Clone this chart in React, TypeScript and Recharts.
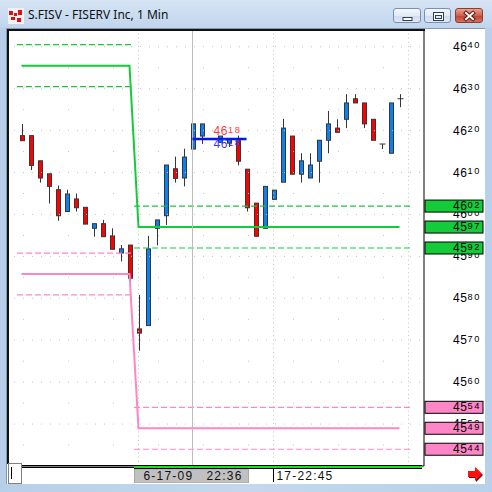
import { Bar, ComposedChart, Line, ReferenceLine, XAxis, YAxis } from "recharts";

const FONT = "'Liberation Sans', Arial, sans-serif";
const GREEN = "#14cc3a";
const PINK = "#ff86c6";
const UP = "#0b80f0";
const DOWN = "#ff0000";
const EDGE = "#363636";
const GRID = "#c4c4c4";
const TICK = "#9a9a9a";

const PRICE_MIN = 4540;
const PRICE_MAX = 4644;
const SLOT_MIN = -1.5;
const SLOT_MAX = 44.72;

// one bar per minute from 22:17; 22:38 printed nothing
const minutes = [
  "22:17", "22:18", "22:19", "22:20", "22:21", "22:22", "22:23", "22:24", "22:25", "22:26",
  "22:27", "22:28", "22:29", "22:30", "22:31", "22:32", "22:33", "22:34", "22:35", "22:36",
  "22:37", "22:38", "22:39", "22:40", "22:41", "22:42", "22:43", "22:44", "22:45", "22:46",
  "22:47", "22:48", "22:49", "22:50", "22:51", "22:52", "22:53", "22:54", "22:55", "22:56",
  "22:57", "22:58", "22:59",
];
const opens = [
  4618.8, 4618.8, 4612.8, 4609.7, 4605.9, 4600.7, 4603.7, 4601.7, 4596.7, 4597.8,
  4594.9, 4590.8, 4592.7, 4572.7, 4573.5, 4596.7, 4599.7, 4610.9, 4608.7, 4615.6,
  4618.7, null, 4617.2, 4617.0, 4617.6, 4610.8, 4602.7, 4596.7, 4603.6, 4607.7,
  4618.7, 4609.6, 4608.7, 4612.7, 4617.7, 4620.6, 4622.7, 4627.6, 4626.6, 4622.7,
  4616.8, 4614.6, 4627.6,
];
const highs = [
  4621.6, 4618.8, 4612.8, 4609.7, 4606.9, 4605.9, 4605.0, 4601.7, 4597.8, 4598.7,
  4596.7, 4592.7, 4592.7, 4580.8, 4594.9, 4598.7, 4611.8, 4613.8, 4615.7, 4621.6,
  4621.6, null, 4618.7, 4617.9, 4618.8, 4610.8, 4602.7, 4606.7, 4605.8, 4622.8,
  4618.7, 4614.6, 4614.6, 4617.7, 4624.7, 4622.7, 4628.7, 4628.7, 4626.6, 4622.7,
  4616.8, 4626.6, 4628.7,
];
const lows = [
  4617.6, 4610.6, 4607.6, 4602.6, 4598.5, 4600.7, 4600.7, 4597.7, 4594.7, 4594.7,
  4591.7, 4588.8, 4582.6, 4567.5, 4573.5, 4592.6, 4597.5, 4607.6, 4606.7, 4615.6,
  4616.8, null, 4617.2, 4616.1, 4611.7, 4600.7, 4594.8, 4596.7, 4603.6, 4607.7,
  4609.6, 4607.6, 4608.7, 4607.6, 4614.6, 4619.6, 4620.6, 4626.6, 4620.6, 4617.7,
  4615.6, 4614.6, 4625.6,
];
const closes = [
  4617.6, 4611.7, 4608.7, 4606.7, 4599.7, 4604.9, 4601.6, 4597.7, 4597.8, 4594.7,
  4591.7, 4591.8, 4584.8, 4571.7, 4591.8, 4598.7, 4611.8, 4608.6, 4613.7, 4621.6,
  4621.6, null, 4618.7, 4617.9, 4612.7, 4601.6, 4594.8, 4606.7, 4605.8, 4620.6,
  4609.6, 4612.8, 4611.8, 4617.7, 4621.6, 4619.6, 4626.6, 4626.6, 4621.6, 4617.7,
  4616.8, 4626.6, 4627.6,
];

// pivot levels: first value up to levelBreak, second one after
const levelBreak = 13;
const greenLevels = [4635.5, 4597];
const pinkLevels = [4585.8, 4549];
const bandOffset = 5;

const quoteLevel = 4618;
const quoteFrom = 19;
const quoteTo = 25;
const cursorSlot = 19;
const sessionDate = "6-17-09";
const timeTicks = [19, 28];
const gridSlots = [13, 28, 43];
const priceLabels = [4550, 4560, 4570, 4580, 4590, 4600, 4610, 4620, 4630, 4640];
const minorRows = [4545, 4555, 4565, 4575, 4585, 4595, 4605, 4615, 4625, 4635];

const table = minutes.map((time, i) => ({
  slot: i,
  time,
  open: opens[i],
  high: highs[i],
  low: lows[i],
  close: closes[i],
  green: i < levelBreak ? greenLevels[0] : greenLevels[1],
  pink: i < levelBreak ? pinkLevels[0] : pinkLevels[1],
}));

const greenBoxes = [greenLevels[1] + bandOffset, greenLevels[1] - bandOffset, greenLevels[1]];
const pinkBoxes = [pinkLevels[1] + bandOffset, pinkLevels[1] - bandOffset, pinkLevels[1]];

const unitTicks: number[] = [];
const fiveTicks: number[] = [];
for (let v = PRICE_MIN + 1; v < PRICE_MAX; v++) {
  unitTicks.push(v);
  if (v % 5 === 0) fiveTicks.push(v);
}
// boxed prices go last so their tags sit on top of the plain labels
const boxed = [...greenBoxes, ...pinkBoxes];
const rightTicks = [...unitTicks.filter((v) => !boxed.includes(v)), ...boxed];

const bands = [
  { level: greenLevels[0], color: GREEN, from: -0.5, to: 12.4 },
  { level: greenLevels[1], color: GREEN, from: 12.5, to: 43.4 },
  { level: pinkLevels[0], color: PINK, from: -0.5, to: 12.4 },
  { level: pinkLevels[1], color: PINK, from: 12.5, to: 43.4 },
];

function PriceText({ x, y, value, fill = "#000" }: { x: number; y: number; value: number; fill?: string }) {
  const s = String(Math.round(value));
  return (
    <text x={x} y={y + 4} textAnchor="end" fill={fill} fontFamily={FONT}>
      <tspan fontSize={12} letterSpacing={0.6}>{s.slice(0, 2)}</tspan>
      <tspan fontSize={9.2} dy={-2.4} letterSpacing={1.6}>{s.slice(2)}</tspan>
    </text>
  );
}

function Candle(props: any) {
  const { x, y, width, height, payload } = props;
  if (!payload || payload.open == null) return <g />;
  const { open, close, high, low } = payload;
  const ppu = height / (high - low);
  const cx = Math.round(x + width / 2) + 0.5;
  const at = (v: number) => y + (high - v) * ppu;
  const top = at(Math.max(open, close));
  const bottom = at(Math.min(open, close));
  return (
    <g>
      <line x1={cx} x2={cx} y1={y} y2={y + height} stroke={EDGE} strokeWidth={1} />
      {open === close ? (
        <line x1={cx - 3} x2={cx + 3} y1={top} y2={top} stroke={EDGE} strokeWidth={1} />
      ) : (
        <rect
          x={cx - 2}
          y={top}
          width={4}
          height={bottom - top}
          fill={close > open ? UP : DOWN}
          stroke={EDGE}
          strokeWidth={1}
        />
      )}
    </g>
  );
}

function RightTick(props: any) {
  const { x, y, payload } = props;
  const v = payload.value;
  const green = greenBoxes.includes(v);
  const pink = pinkBoxes.includes(v);
  if (green || pink) {
    return (
      <g>
        <rect x={x + 1} y={y - 6} width={58} height={12} fill={green ? GREEN : PINK} stroke="#000" />
        <PriceText x={x + 57} y={y} value={v} />
      </g>
    );
  }
  if (priceLabels.includes(v)) return <PriceText x={x + 57} y={y} value={v} />;
  return <g />;
}

function TimeTick(props: any) {
  const { x, y, payload } = props;
  const slot = payload.value;
  const time = minutes[slot];
  if (slot === cursorSlot) {
    return (
      <g fontFamily={FONT} fontSize={12} fill="#111">
        <rect x={x - 58} y={y + 3} width={114} height={14} fill="#c0c0c0" stroke="#a8a8a8" />
        <text x={x - 49} y={y + 13.5} letterSpacing={1.2}>{sessionDate}</text>
        <text x={x + 14} y={y + 13.5} letterSpacing={1.2}>{time}</text>
      </g>
    );
  }
  return (
    <g fontFamily={FONT} fontSize={12} fill="#111">
      <line x1={x} x2={x} y1={y + 3} y2={y + 16} stroke="#000" />
      <text x={x + 3} y={y + 13.5} letterSpacing={1.2}>{`${sessionDate.split("-")[1]}-${time}`}</text>
    </g>
  );
}

function QuoteTags({ viewBox }: any) {
  const { x, y } = viewBox;
  return (
    <g>
      <PriceText x={x + 49} y={y - 8} value={quoteLevel} fill="#ff3b3b" />
      <PriceText x={x + 49} y={y + 5} value={quoteLevel} fill="#3a3aff" />
    </g>
  );
}

function PriceChart() {
  return (
    <ComposedChart width={476} height={453} data={table} margin={{ top: 0, right: 0, bottom: 0, left: 0 }}>
      <XAxis
        dataKey="slot"
        type="number"
        domain={[SLOT_MIN, SLOT_MAX]}
        allowDataOverflow
        ticks={timeTicks}
        interval={0}
        height={17}
        tickSize={0}
        tickMargin={0}
        tickLine={false}
        axisLine={{ stroke: "#000" }}
        tick={<TimeTick />}
      />
      <YAxis
        yAxisId="p"
        orientation="right"
        type="number"
        domain={[PRICE_MIN, PRICE_MAX]}
        allowDataOverflow
        ticks={rightTicks}
        interval={0}
        width={60}
        tickSize={0}
        tickMargin={0}
        tickLine={false}
        axisLine={{ stroke: "#000" }}
        tick={<RightTick />}
      />
      <YAxis yAxisId="l1" orientation="left" mirror width={0} type="number" domain={[PRICE_MIN, PRICE_MAX]}
        ticks={unitTicks} interval={0} tick={false} tickSize={2} tickLine={{ stroke: TICK }} axisLine={false} />
      <YAxis yAxisId="l5" orientation="left" mirror width={0} type="number" domain={[PRICE_MIN, PRICE_MAX]}
        ticks={fiveTicks} interval={0} tick={false} tickSize={4} tickLine={{ stroke: TICK }} axisLine={false} />
      <YAxis yAxisId="r1" orientation="right" mirror width={0} type="number" domain={[PRICE_MIN, PRICE_MAX]}
        ticks={unitTicks} interval={0} tick={false} tickSize={2} tickLine={{ stroke: TICK }} axisLine={false} />
      <YAxis yAxisId="r5" orientation="right" mirror width={0} type="number" domain={[PRICE_MIN, PRICE_MAX]}
        ticks={fiveTicks} interval={0} tick={false} tickSize={5} tickLine={{ stroke: TICK }} axisLine={false} />

      {priceLabels.map((v) => (
        <ReferenceLine key={`g${v}`} yAxisId="p" y={v} stroke={GRID} strokeDasharray="1 8" strokeDashoffset={5} />
      ))}
      {minorRows.map((v) => (
        <ReferenceLine key={`m${v}`} yAxisId="p" y={v} stroke={GRID} strokeDasharray="1 44" strokeDashoffset={5} />
      ))}
      {gridSlots.map((s) => (
        <ReferenceLine key={`v${s}`} yAxisId="p" x={s} stroke={GRID} strokeDasharray="1 3.19" />
      ))}

      {bands.flatMap((b) =>
        [b.level + bandOffset, b.level - bandOffset].map((v) => (
          <ReferenceLine
            key={`${b.color}${v}`}
            yAxisId="p"
            segment={[{ x: b.from, y: v }, { x: b.to, y: v }]}
            stroke={b.color}
            strokeWidth={1.2}
            strokeDasharray="6 3"
          />
        ))
      )}

      <Line yAxisId="p" dataKey="green" type="linear" stroke={GREEN} strokeWidth={2} dot={false} activeDot={false} isAnimationActive={false} />
      <Line yAxisId="p" dataKey="pink" type="linear" stroke={PINK} strokeWidth={2} dot={false} activeDot={false} isAnimationActive={false} />

      <Bar
        yAxisId="p"
        dataKey={(d: any) => (d.open == null ? null : [d.low, d.high])}
        barSize={5}
        shape={(p: any) => <Candle {...p} />}
        isAnimationActive={false}
      />

      <ReferenceLine yAxisId="p" x={cursorSlot} stroke="#bdbdbd" />
      <ReferenceLine
        yAxisId="p"
        segment={[{ x: quoteFrom, y: quoteLevel }, { x: quoteTo, y: quoteLevel }]}
        stroke="#0018f0"
        strokeWidth={2.5}
        label={(p: any) => <QuoteTags viewBox={p.viewBox} />}
      />
    </ComposedChart>
  );
}

function Icon() {
  return (
    <svg width={16} height={16} style={{ position: "absolute", left: 8, top: 8 }}>
      <rect x={0} y={0} width={16} height={16} fill="#f2f2f2" />
      <rect x={1} y={3} width={4} height={4} fill="#e01010" />
      <rect x={6} y={5} width={3} height={3} fill="#e01010" />
      <rect x={10} y={2} width={4} height={5} fill="#e01010" />
      <rect x={3} y={9} width={4} height={3} fill="#e01010" />
      <rect x={9} y={10} width={4} height={4} fill="#e01010" />
    </svg>
  );
}

function CaptionButton({ left, kind }: { left: number; kind: "min" | "max" | "close" }) {
  const close = kind === "close";
  return (
    <div
      style={{
        position: "absolute",
        left,
        top: 8,
        width: kind === "max" ? 27 : 28,
        height: 15,
        borderRadius: 3,
        border: close ? "1px solid #8e3b30" : "1px solid #7690b3",
        background: close
          ? "linear-gradient(#e8a395, #d0604e 50%, #c0412f 51%, #d5705e)"
          : "linear-gradient(#f4f8fc, #e1eaf5 50%, #cddcee 51%, #dfe9f5)",
        boxSizing: "border-box",
      }}
    >
      <svg width={27} height={14} style={{ position: "absolute", left: 0, top: 0 }}>
        {kind === "min" && <rect x={9} y={8.5} width={9} height={3} fill="#fff" stroke="#2d3e58" />}
        {kind === "max" && (
          <g>
            <rect x={8.5} y={3.5} width={10} height={8} fill="#fff" stroke="#2d3e58" />
            <rect x={10.5} y={6.5} width={6} height={3} fill="#dfe9f5" stroke="#2d3e58" />
          </g>
        )}
        {kind === "close" && (
          <g stroke="#5a1a12" strokeWidth={4} strokeLinecap="square">
            <line x1={10} y1={4} x2={17} y2={10} />
            <line x1={17} y1={4} x2={10} y2={10} />
            <g stroke="#fff" strokeWidth={2}>
              <line x1={10} y1={4} x2={17} y2={10} />
              <line x1={17} y1={4} x2={10} y2={10} />
            </g>
          </g>
        )}
      </svg>
    </div>
  );
}

export default function App() {
  return (
    <div
      style={{
        position: "fixed",
        left: 0,
        top: 0,
        width: 492,
        height: 492,
        overflow: "hidden",
        background: "linear-gradient(90deg, #b7cfe9, #c3d8ee 50%, #b9d0ea)",
      }}
    >
      <div
        style={{
          position: "absolute",
          left: 0,
          top: 0,
          width: 492,
          height: 28,
          background: "linear-gradient(#d6e4f4, #c0d5ed)",
        }}
      />
      <Icon />
      <div
        style={{
          position: "absolute",
          left: 28,
          top: 6,
          fontFamily: "'Noto Sans', sans-serif",
          fontSize: 12,
          color: "#111",
          whiteSpace: "pre",
        }}
      >
        S.FISV - FISERV Inc, 1 Min
      </div>
      <CaptionButton left={393} kind="min" />
      <CaptionButton left={424} kind="max" />
      <CaptionButton left={455} kind="close" />

      <div
        style={{
          position: "absolute",
          left: 6,
          top: 28,
          width: 479,
          height: 456,
          background: "#fff",
          borderLeft: "1px solid #8c99aa",
          borderTop: "1px solid #8c99aa",
          boxSizing: "border-box",
        }}
      />
      <div style={{ position: "absolute", left: 8, top: 30 }}>
        <PriceChart />
      </div>
      <div style={{ position: "absolute", left: 7, top: 29, width: 2, height: 435, background: "#111" }} />
      <div style={{ position: "absolute", left: 7, top: 29, width: 418, height: 2, background: "#111" }} />

      <div
        style={{
          position: "absolute",
          left: 8,
          top: 463,
          width: 14,
          height: 21,
          background: "#fff",
          border: "1px solid #808080",
          boxSizing: "border-box",
        }}
      >
        <div style={{ position: "absolute", left: 2, top: 3, width: 1, height: 12, background: "#000" }} />
      </div>
      <div style={{ position: "absolute", left: 22, top: 465, width: 112, height: 1, background: "#000" }} />
      <div style={{ position: "absolute", left: 22, top: 467, width: 112, height: 1, background: "#000" }} />
      <div
        style={{
          position: "absolute",
          left: 134,
          top: 465,
          width: 288,
          height: 4,
          background: "#1ee01e",
          borderTop: "1px solid #000",
          borderBottom: "1px solid #000",
          boxSizing: "border-box",
        }}
      />
      <svg width={18} height={16} style={{ position: "absolute", left: 467, top: 466 }}>
        <polygon points="1,5 8,5 8,1 15,8 8,15 8,11 1,11" fill="#800000" transform="translate(1,1)" />
        <polygon points="1,5 8,5 8,1 15,8 8,15 8,11 1,11" fill="#ff1010" />
      </svg>
    </div>
  );
}
